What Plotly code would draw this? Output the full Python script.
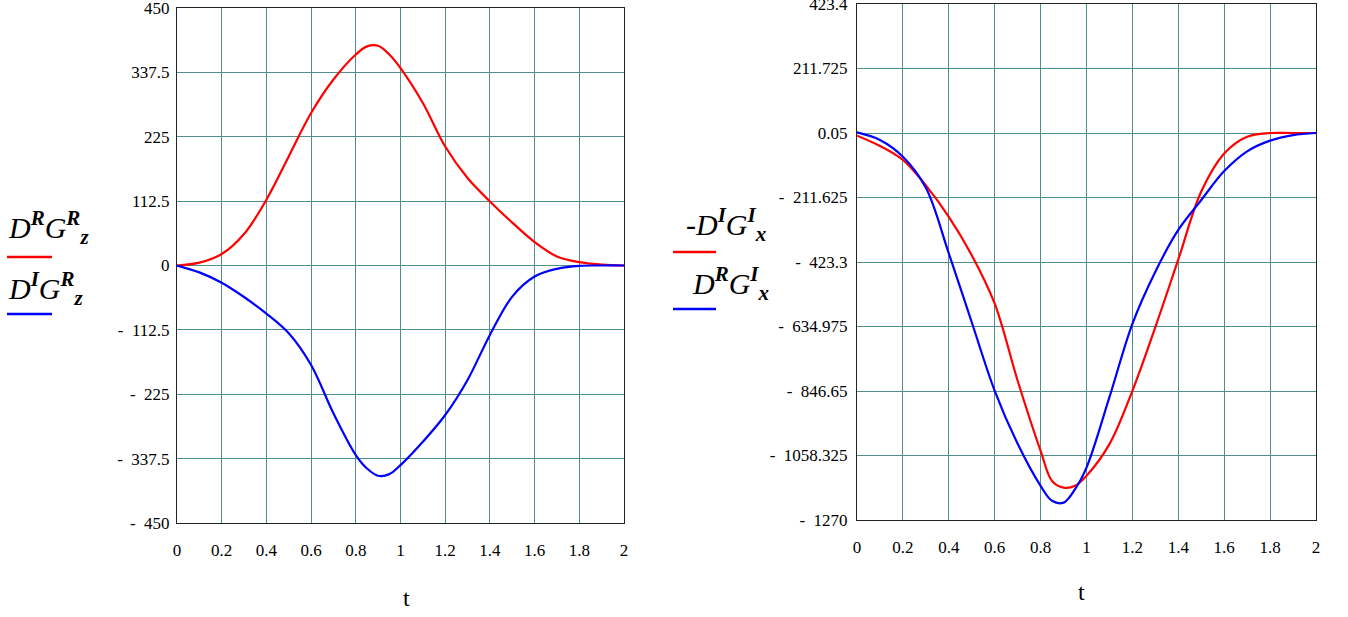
import plotly.graph_objects as go

# time samples
t = [0, 0.1, 0.2, 0.3, 0.4, 0.5, 0.6, 0.7, 0.8, 0.85, 0.9, 0.95, 1.0,
     1.1, 1.2, 1.3, 1.4, 1.5, 1.6, 1.7, 1.8, 1.9, 2.0]

# left panel
DRGRz = [0, 5, 20, 55, 115, 190.7, 266.5, 325, 368.7, 383, 384, 368.7, 345,
         284, 208, 152.8, 112, 75, 41, 15.8, 5.8, 1.7, 0]
DIGRz = [0, -12, -30, -55, -84, -118.4, -173.8, -258.4, -331.3, -354.7, -367.5, -364.6, -348.8,
         -308, -261.3, -200, -121.3, -54.3, -19.3, -5.8, -0.6, 0, 0]

# right panel
mDIGIx = [-8.75, -42.7, -88.6, -172, -275, -401, -560, -813, -1043, -1142, -1164, -1158, -1125,
          -1021, -846, -637, -415, -192, -67, -12, 0, 0, 0]
DRGIx = [2, -23, -78, -180, -395, -621, -846, -1020, -1158, -1207, -1213, -1169, -1098,
         -867, -626, -455, -318, -220, -125, -60, -25, -7, 0]

x_ticks = [0, 0.2, 0.4, 0.6, 0.8, 1, 1.2, 1.4, 1.6, 1.8, 2]
x_ticktext = ["0", "0.2", "0.4", "0.6", "0.8", "1", "1.2", "1.4", "1.6", "1.8", "2"]

yl_ticks = [450, 337.5, 225, 112.5, 0, -112.5, -225, -337.5, -450]
yl_ticktext = ["450", "337.5", "225", "112.5", "0", "-  112.5", "-  225", "-  337.5", "-  450"]

yr_ticks = [423.4, 211.725, 0.05, -211.625, -423.3, -634.975, -846.65, -1058.325, -1270]
yr_ticktext = ["423.4", "211.725", "0.05", "-  211.625", "-  423.3", "-  634.975",
               "-  846.65", "-  1058.325", "-  1270"]

RED = "#ff0000"
BLUE = "#0000ff"
GRID = "#4f8f8f"
FONT = "Liberation Serif, Times New Roman, serif"

fig = go.Figure()
fig.add_trace(go.Scatter(x=t, y=DRGRz, mode="lines", line=dict(color=RED, width=2.2, shape="spline"),
                         xaxis="x", yaxis="y", showlegend=False))
fig.add_trace(go.Scatter(x=t, y=DIGRz, mode="lines", line=dict(color=BLUE, width=2.2, shape="spline"),
                         xaxis="x", yaxis="y", showlegend=False))
fig.add_trace(go.Scatter(x=t, y=mDIGIx, mode="lines", line=dict(color=RED, width=2.2, shape="spline"),
                         xaxis="x2", yaxis="y2", showlegend=False))
fig.add_trace(go.Scatter(x=t, y=DRGIx, mode="lines", line=dict(color=BLUE, width=2.2, shape="spline"),
                         xaxis="x2", yaxis="y2", showlegend=False))

W, H = 1348, 617


def px_x(p):
    return p / W


def px_y(p):
    return 1 - p / H


axis_common = dict(showgrid=True, gridcolor=GRID, gridwidth=1, zeroline=False,
                   showline=True, linecolor="#222", linewidth=1, mirror=True,
                   ticks="", ticklabeloverflow="allow", automargin=False,
                   tickfont=dict(family=FONT, size=17, color="black"))

fig.update_layout(
    width=W, height=H,
    margin=dict(l=0, r=0, t=0, b=0, autoexpand=False),
    paper_bgcolor="white", plot_bgcolor="white",
    xaxis=dict(domain=[px_x(177), px_x(624)], range=[0, 2], tickvals=x_ticks, ticktext=x_ticktext,
               anchor="y", ticklabelstandoff=12, **axis_common),
    yaxis=dict(domain=[px_y(523), px_y(8)], range=[-450.0001, 450.0001], tickvals=yl_ticks,
               ticktext=yl_ticktext, anchor="x", ticklabelstandoff=3, **axis_common),
    xaxis2=dict(domain=[px_x(857), px_x(1316)], range=[0, 2], tickvals=x_ticks, ticktext=x_ticktext,
                anchor="y2", ticklabelstandoff=12, **axis_common),
    yaxis2=dict(domain=[px_y(520), px_y(4)], range=[-1270.0001, 423.4001], tickvals=yr_ticks,
                ticktext=yr_ticktext, anchor="x2", ticklabelstandoff=5, **axis_common),
)

LEG_FONT = dict(family=FONT, size=30, color="black")
annotations = [
    dict(text="t", x=px_x(401), y=px_y(598), xref="paper", yref="paper", showarrow=False,
         yanchor="middle", font=dict(family=FONT, size=24, color="black")),
    dict(text="t", x=px_x(1087), y=px_y(592), xref="paper", yref="paper", showarrow=False,
         yanchor="middle", font=dict(family=FONT, size=24, color="black")),
    dict(text="<i>D<sup><b>R</b></sup>G<sup><b>R</b></sup><sub><b>z</b></sub></i>",
         x=px_x(6), y=px_y(228), xref="paper", yref="paper", xanchor="left", yanchor="middle",
         showarrow=False, font=LEG_FONT),
    dict(text="<i>D<sup><b>I</b></sup>G<sup><b>R</b></sup><sub><b>z</b></sub></i>",
         x=px_x(6), y=px_y(288), xref="paper", yref="paper", xanchor="left", yanchor="middle",
         showarrow=False, font=LEG_FONT),
    dict(text="<i>-D<sup><b>I</b></sup>G<sup><b>I</b></sup><sub><b>x</b></sub></i>",
         x=px_x(684), y=px_y(224), xref="paper", yref="paper", xanchor="left", yanchor="middle",
         showarrow=False, font=LEG_FONT),
    dict(text="<i>D<sup><b>R</b></sup>G<sup><b>I</b></sup><sub><b>x</b></sub></i>",
         x=px_x(690), y=px_y(283), xref="paper", yref="paper", xanchor="left", yanchor="middle",
         showarrow=False, font=LEG_FONT),
]
fig.update_layout(annotations=annotations)

shapes = [
    dict(type="line", xref="paper", yref="paper", x0=px_x(7), x1=px_x(52), y0=px_y(257), y1=px_y(257),
         line=dict(color=RED, width=2.5)),
    dict(type="line", xref="paper", yref="paper", x0=px_x(7), x1=px_x(52), y0=px_y(314), y1=px_y(314),
         line=dict(color=BLUE, width=2.5)),
    dict(type="line", xref="paper", yref="paper", x0=px_x(673), x1=px_x(716), y0=px_y(252), y1=px_y(252),
         line=dict(color=RED, width=2.5)),
    dict(type="line", xref="paper", yref="paper", x0=px_x(673), x1=px_x(716), y0=px_y(309), y1=px_y(309),
         line=dict(color=BLUE, width=2.5)),
]
fig.update_layout(shapes=shapes)

fig.write_html("out.html")
